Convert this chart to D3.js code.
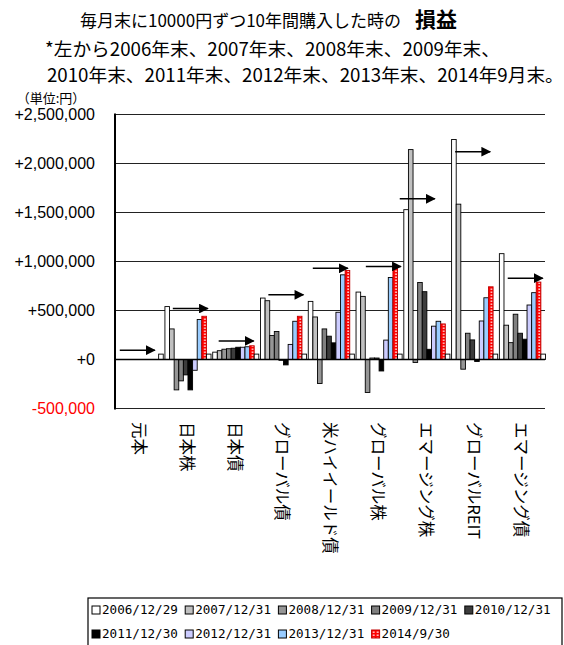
<!DOCTYPE html>
<html><head><meta charset="utf-8">
<script src="https://cdn.jsdelivr.net/npm/d3@7"></script>
<style>
body{margin:0;background:#fff;}
svg{display:block;}
</style></head>
<body>
<svg id="chart" width="564" height="645"></svg>
<script>
const categories = ["元本","日本株","日本債","グローバル債","米ハイイールド債","グローバル株","エマージング株","グローバルREIT","エマージング債"];
const seriesNames = ["2006/12/29","2007/12/31","2008/12/31","2009/12/31","2010/12/31","2011/12/30","2012/12/31","2013/12/31","2014/9/30",""];
const v2006 = [0, 540000, 75000, 627000, 593000, 688000, 1529000, 2245000, 1080000];
const v2007 = [0, 312000, 90000, 600000, 434000, 644000, 2142000, 1585000, 350000];
const v2008 = [0, -310000, 105000, 245000, -245000, -337000, -30000, -99000, 172000];
const v2009 = [0, -218000, 110000, 286000, 312000, 15000, 786000, 268000, 462000];
const v2010 = [0, -157000, 115000, -8000, 238000, 15000, 692000, 200000, 268000];
const v2011 = [0, -310000, 125000, -55000, 170000, -117000, 104000, -20000, 207000];
const v2012 = [0, -110000, 125000, 154000, 482000, 198000, 340000, 393000, 556000];
const v2013 = [0, 408000, 130000, 390000, 864000, 837000, 390000, 630000, 682000];
const v2014 = [0, 441000, 140000, 441000, 908000, 955000, 363000, 742000, 790000];
const vExtra = [55000, 55000, 55000, 55000, 55000, 55000, 55000, 55000, 55000];
const yTicks = [2500000, 2000000, 1500000, 1000000, 500000, 0, -500000];
const arrowLevels = [95000, 520000, 190000, 660000, 930000, 950000, 1640000, 2120000, 830000];
const arrowStarts = [0.10, 0.21, 0.17, 0.21, 0.14, 0.25, -0.04, 0.12, 0.22];

const seriesValues = [v2006, v2007, v2008, v2009, v2010, v2011, v2012, v2013, v2014, vExtra];
const fills = ["#ffffff","#c0c0c0","#969696","#808080","#3c3c3c","#000000","#ccccff","#99ccff","url(#redStripe)","#ffffff"];
const strokes = ["#000","#000","#000","#000","#000","#000","#000","#000","#c00000","#000"];

const svg = d3.select("#chart");
const defs = svg.append("defs");
const pat = defs.append("pattern").attr("id","redStripe").attr("patternUnits","userSpaceOnUse")
  .attr("width",4).attr("height",3);
pat.append("rect").attr("width",4).attr("height",3).attr("fill","#ff0000");
pat.append("rect").attr("x",1.3).attr("y",0.5).attr("width",1.6).attr("height",1.4).attr("fill","#ffffff");
const mk = defs.append("marker").attr("id","ah").attr("viewBox","0 0 10 10").attr("refX",9).attr("refY",5)
  .attr("markerWidth",7).attr("markerHeight",6.5).attr("markerUnits","strokeWidth").attr("orient","auto");
mk.append("path").attr("d","M0,0L10,5L0,10Z").attr("fill","#000");

const pLeft = 115, pRight = 545, pTop = 114.5, pBottom = 408.5;
const x0 = d3.scaleBand().domain(categories).range([pLeft, pRight]).padding(0);
const bw = x0.bandwidth();
const x1 = d3.scaleBand().domain(d3.range(seriesValues.length)).range([bw*0.045, bw*1.01]).padding(0);
const y = d3.scaleLinear().domain([-500000, 2500000]).range([pBottom, pTop]);

// gridlines
svg.append("g").selectAll("line").data(yTicks).join("line")
  .attr("x1", pLeft).attr("x2", pRight)
  .attr("y1", d => y(d)).attr("y2", d => y(d))
  .attr("stroke", "#222").attr("stroke-width", 1.2);

// y axis labels
const fmt = d3.format(",");
svg.append("g").selectAll("text").data(yTicks).join("text")
  .attr("x", 95).attr("y", d => y(d)).attr("dy","0.35em")
  .attr("text-anchor","end")
  .attr("font-family","Liberation Sans, Arial, sans-serif").attr("font-size",16)
  .attr("fill", d => d < 0 ? "#ff0000" : "#000")
  .text(d => d < 0 ? "-" + fmt(-d) : "+" + fmt(d));

svg.append("text").attr("x", 51).attr("y", 103).attr("text-anchor","middle")
  .attr("font-family","Noto Sans CJK JP, sans-serif").attr("font-size",13).text("（単位:円）");

// bars
const groups = svg.append("g").selectAll("g").data(categories).join("g")
  .attr("transform", d => `translate(${x0(d)},0)`);
groups.each(function(cat, ci){
  const g = d3.select(this);
  seriesValues.forEach((arr, si) => {
    const v = arr[ci];
    if (v === 0) return;
    g.append("rect")
      .attr("x", x1(si)).attr("width", x1.bandwidth())
      .attr("y", y(Math.max(0, v))).attr("height", Math.abs(y(v) - y(0)))
      .attr("fill", fills[si]).attr("stroke", strokes[si]).attr("stroke-width", 0.9);
  });
});

// axes lines
svg.append("line").attr("x1", pLeft).attr("x2", pRight).attr("y1", y(0)).attr("y2", y(0))
  .attr("stroke","#000").attr("stroke-width",1.6);
svg.append("line").attr("x1", pLeft).attr("x2", pLeft).attr("y1", pTop-1).attr("y2", pBottom+1)
  .attr("stroke","#000").attr("stroke-width",2);

// arrows
svg.append("g").selectAll("line").data(categories).join("line")
  .attr("x1", (d,i) => x0(d) + bw*arrowStarts[i])
  .attr("x2", (d,i) => x0(d) + bw*arrowStarts[i] + 35)
  .attr("y1", (d,i) => y(arrowLevels[i])).attr("y2", (d,i) => y(arrowLevels[i]))
  .attr("stroke","#000").attr("stroke-width",1.5).attr("marker-end","url(#ah)");

// x labels
svg.append("g").selectAll("text").data(categories).join("text")
  .attr("transform", d => `translate(${x0(d)+bw/2},422) rotate(90)`)
  .attr("dy","0.35em")
  .attr("font-family","Noto Sans CJK JP, sans-serif").attr("font-size",16.5)
  .text(d => d);

// titles
const t1 = svg.append("text").attr("x", 80).attr("y", 27)
  .attr("font-family","Noto Sans CJK JP, sans-serif").attr("font-size",17);
t1.append("tspan").text("毎月末に10000円ずつ10年間購入した時の");
t1.append("tspan").attr("dx", 14).attr("font-size",21).attr("font-weight","bold").text("損益");
svg.append("text").attr("x", 45).attr("y", 56)
  .attr("font-family","Noto Sans CJK JP, sans-serif").attr("font-size",18.7)
  .text("*左から2006年末、2007年末、2008年末、2009年末、");
svg.append("text").attr("x", 47).attr("y", 82)
  .attr("font-family","Noto Sans CJK JP, sans-serif").attr("font-size",18.7)
  .text("2010年末、2011年末、2012年末、2013年末、2014年9月末。");

// legend
svg.append("rect").attr("x", 88).attr("y", 598).attr("width", 474).attr("height", 60)
  .attr("fill","none").attr("stroke","#000").attr("stroke-width",1.2);
const legendIdx = d3.range(9);
const lg = svg.append("g").selectAll("g").data(legendIdx).join("g")
  .attr("transform", i => `translate(${92 + (i%5)*93.2},${i<5 ? 610 : 634})`);
lg.append("rect").attr("x",0).attr("y",-4).attr("width",8).attr("height",8)
  .attr("fill", i => fills[i]).attr("stroke", i => i===8 ? "#c00000" : "#000").attr("stroke-width",1);
lg.append("text").attr("x",10).attr("dy","0.35em")
  .attr("font-family","DejaVu Sans Mono, monospace").attr("font-size",12.6)
  .text(i => seriesNames[i]);
</script>
</body></html>
